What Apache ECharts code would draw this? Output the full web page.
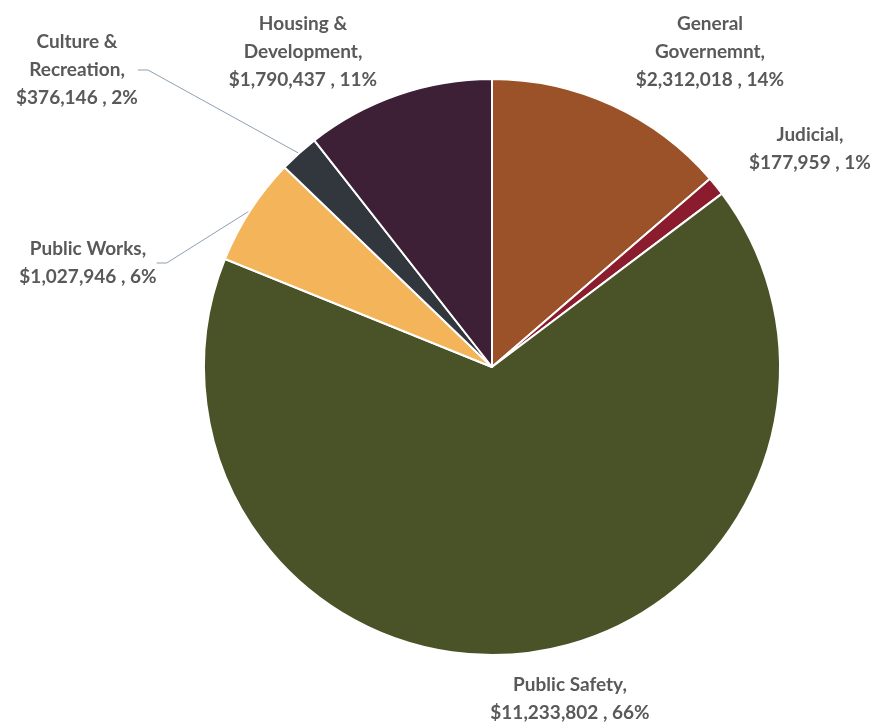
<!DOCTYPE html>
<html>
<head>
<meta charset="utf-8">
<title>Budget by Function</title>
<script src="https://cdn.jsdelivr.net/npm/echarts@6/dist/echarts.min.js"></script>
<style>
  html, body { margin: 0; padding: 0; background: #ffffff; }
  #chart { width: 879px; height: 725px; }
</style>
</head>
<body>
<div id="chart"></div>
<script>
// Spending categories, clockwise from 12 o'clock
const categories = [
  'General\nGovernemnt',
  'Judicial',
  'Public Safety',
  'Public Works',
  'Culture &\nRecreation',
  'Housing &\nDevelopment'
];
const amounts = [2312018, 177959, 11233802, 1027946, 376146, 1790437];
const sliceColors = ['#9c5228', '#8a1c2e', '#4a5228', '#f3b45a', '#32373e', '#3d1f36'];

// Where each label block sits (centre of the text block)
const labelSpots = [
  [710, 52], [810, 149], [570, 699], [88, 263], [77, 70], [303, 52]
];
const showLine = [false, false, false, true, true, false];

const fmt = n => '$' + n.toLocaleString('en-US');

const chart = echarts.init(document.getElementById('chart'), null, { renderer: 'canvas' });
chart.setOption({
  animation: false,
  backgroundColor: '#ffffff',
  series: [{
    type: 'pie',
    center: [492, 367],
    radius: [0, 288],
    startAngle: 90,
    clockwise: true,
    avoidLabelOverlap: false,
    itemStyle: { borderColor: '#ffffff', borderWidth: 2 },
    data: categories.map((name, i) => ({
      name: name,
      value: amounts[i],
      itemStyle: { color: sliceColors[i] },
      labelLine: { show: showLine[i] }
    })),
    label: {
      show: true,
      position: 'outside',
      color: '#595959',
      fontFamily: 'Lato',
      fontWeight: 'bold',
      fontSize: 19,
      lineHeight: 28,
      align: 'center',
      formatter: p => p.name + ',\n' + fmt(p.value) + ' , ' + Math.round(p.percent) + '%'
    },
    labelLine: {
      lineStyle: { color: '#8fa0b2', width: 1 },
      length: 10,
      length2: 10
    },
    labelLayout: p => ({
      x: labelSpots[p.dataIndex][0],
      y: labelSpots[p.dataIndex][1],
      align: 'center',
      verticalAlign: 'middle'
    })
  }]
});
</script>
</body>
</html>
